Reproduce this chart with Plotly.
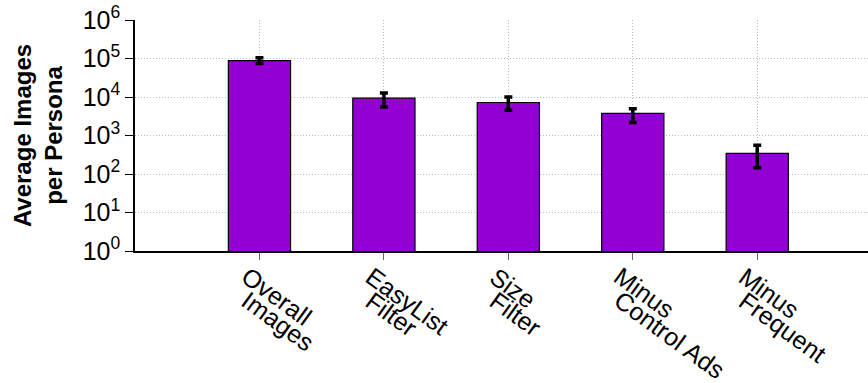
import plotly.graph_objects as go

label_line1 = ["Overall", "EasyList", "Size", "Minus", "Minus"]
label_line2 = ["Images", "Filter", "Filter", "Control Ads", "Frequent"]
values = [88000, 9300, 7200, 3770, 345]
err_plus = [17000, 3400, 2800, 1200, 210]
err_minus = [14000, 3800, 2700, 1600, 200]
ytick_vals = [1, 10, 100, 1000, 10000, 100000, 1000000]
ytick_text = ["10<sup>0</sup>", "10<sup>1</sup>", "10<sup>2</sup>", "10<sup>3</sup>",
              "10<sup>4</sup>", "10<sup>5</sup>", "10<sup>6</sup>"]

xpos = list(range(1, len(values) + 1))

fig = go.Figure()
fig.add_trace(go.Bar(
    x=xpos, y=values, width=0.5,
    marker=dict(color="#9400D3", line=dict(color="black", width=1.2)),
    error_y=dict(type="data", array=err_plus, arrayminus=err_minus,
                 color="black", thickness=3.5, width=4),
))

# category labels: two stacked lines, each rotated, starting at the same x
for i, x in enumerate(xpos):
    for k, txt in enumerate([label_line1[i], label_line2[i]]):
        fig.add_annotation(
            x=x, xref="x", y=0, yref="paper",
            text=txt, showarrow=False, textangle=36,
            xanchor="left", yanchor="top",
            xshift=-26, yshift=-8 - 24 * k,
            font=dict(size=25),
        )

font = "Liberation Sans, Arial, Helvetica, sans-serif"
fig.update_layout(
    width=868, height=383,
    margin=dict(l=135, r=0, t=20, b=132),
    plot_bgcolor="white", paper_bgcolor="white",
    showlegend=False,
    font=dict(family=font, size=24, color="black"),
    xaxis=dict(
        range=[0, 5.89],
        tickmode="array", tickvals=xpos, showticklabels=False,
        showline=True, linecolor="black", linewidth=1.5,
        ticks="outside", ticklen=7, tickcolor="#666666",
        showgrid=True, gridcolor="#bbbbbb", griddash="1px,2px", gridwidth=1,
        zeroline=False, automargin=False,
    ),
    yaxis=dict(
        type="log", range=[0, 6],
        tickmode="array", tickvals=ytick_vals, ticktext=ytick_text,
        showline=True, linecolor="black", linewidth=1.5,
        ticks="outside", ticklen=8, tickcolor="black",
        showgrid=True, gridcolor="#bbbbbb", griddash="1px,2px", gridwidth=1,
        zeroline=False, automargin=False,
        tickfont=dict(size=25),
        title=dict(text="<b>Average Images<br>per Persona</b>", font=dict(size=24), standoff=13),
    ),
)

fig.write_html("out.html")
